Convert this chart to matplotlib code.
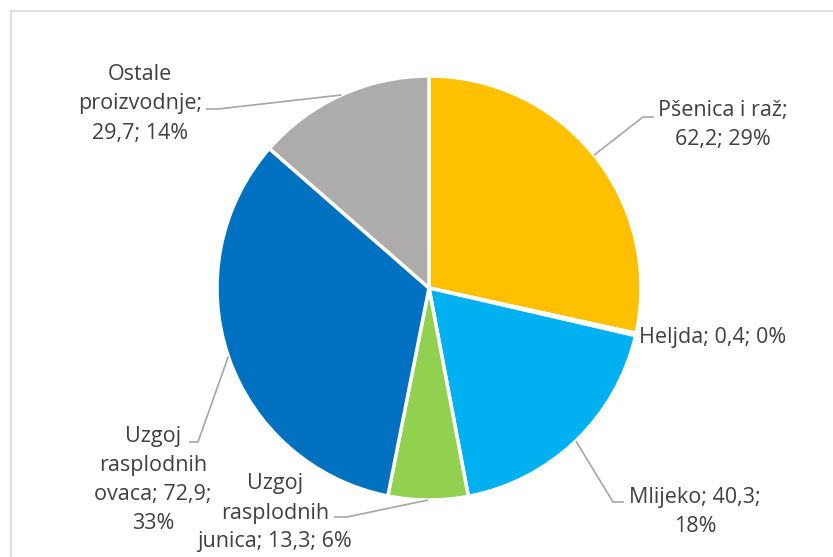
import matplotlib.pyplot as plt
import matplotlib.patches as mpatches
import numpy as np

plt.rcParams['font.family'] = ['Open Sans', 'DejaVu Sans']

# data
names = ["Pšenica i raž", "Heljda", "Mlijeko", "Uzgoj rasplodnih junica",
         "Uzgoj rasplodnih ovaca", "Ostale proizvodnje"]
values = [62.2, 0.4, 40.3, 13.3, 72.9, 29.7]
percents = ["29%", "0%", "18%", "6%", "33%", "14%"]
colors = ["#FFC000", "#ED7D31", "#00B0F0", "#92D050", "#0070C0", "#AEABAB"]

# label texts as wrapped in the chart
label_texts = [
    "Pšenica i raž;\n62,2; 29%",
    "Heljda; 0,4; 0%",
    "Mlijeko; 40,3;\n18%",
    "Uzgoj\nrasplodnih\njunica; 13,3; 6%",
    "Uzgoj\nrasplodnih\novaca; 72,9;\n33%",
    "Ostale\nproizvodnje;\n29,7; 14%",
]

W, H = 833, 557
fig = plt.figure(figsize=(W / 100, H / 100), dpi=100)
ax = fig.add_axes([0, 0, 1, 1])

cx, cy, R = 429, H - 288, 212

wedges, _ = ax.pie(values, colors=colors, startangle=90, counterclock=False,
                   center=(cx, cy), radius=R,
                   wedgeprops=dict(edgecolor="white", linewidth=2.5))
ax.set_xlim(0, W)
ax.set_ylim(0, H)
ax.set_aspect("auto")
ax.axis("off")

# label layout (pixel coords from top-left): text centre, leader elbow, leader end
layout = [
    ((723, 125), (643, 117), (654, 117)),
    ((713, 337), None, None),
    ((695, 512), (613, 502), (624, 502)),
    ((275, 513), (347, 517), (334, 517)),
    ((153, 480), (198, 442), (189, 442)),
    ((140, 104), (218, 109), (206, 109)),
]

total = sum(values)
cum = 0
for v, txt, (tpos, elbow, end) in zip(values, label_texts, layout):
    mid = (cum + v / 2) / total * 2 * np.pi
    cum += v
    tx, ty = tpos
    ax.text(tx, H - ty, txt, ha="center", va="center", multialignment="center",
            fontsize=15.5, color="#404040", linespacing=1.5)
    if elbow is not None:
        sx = cx + R * np.sin(mid)
        sy = cy + R * np.cos(mid)
        ax.plot([sx, elbow[0], end[0]], [sy, H - elbow[1], H - end[1]],
                color="#A6A6A6", lw=1.2, solid_capstyle="butt")

# chart frame
fig.patches.append(mpatches.Rectangle((11 / W, -0.1), 1.2, (H - 11) / H + 0.1,
                                      transform=fig.transFigure, fill=False,
                                      edgecolor="#D9D9D9", lw=1.2))

fig.savefig("out.png", dpi=100)
